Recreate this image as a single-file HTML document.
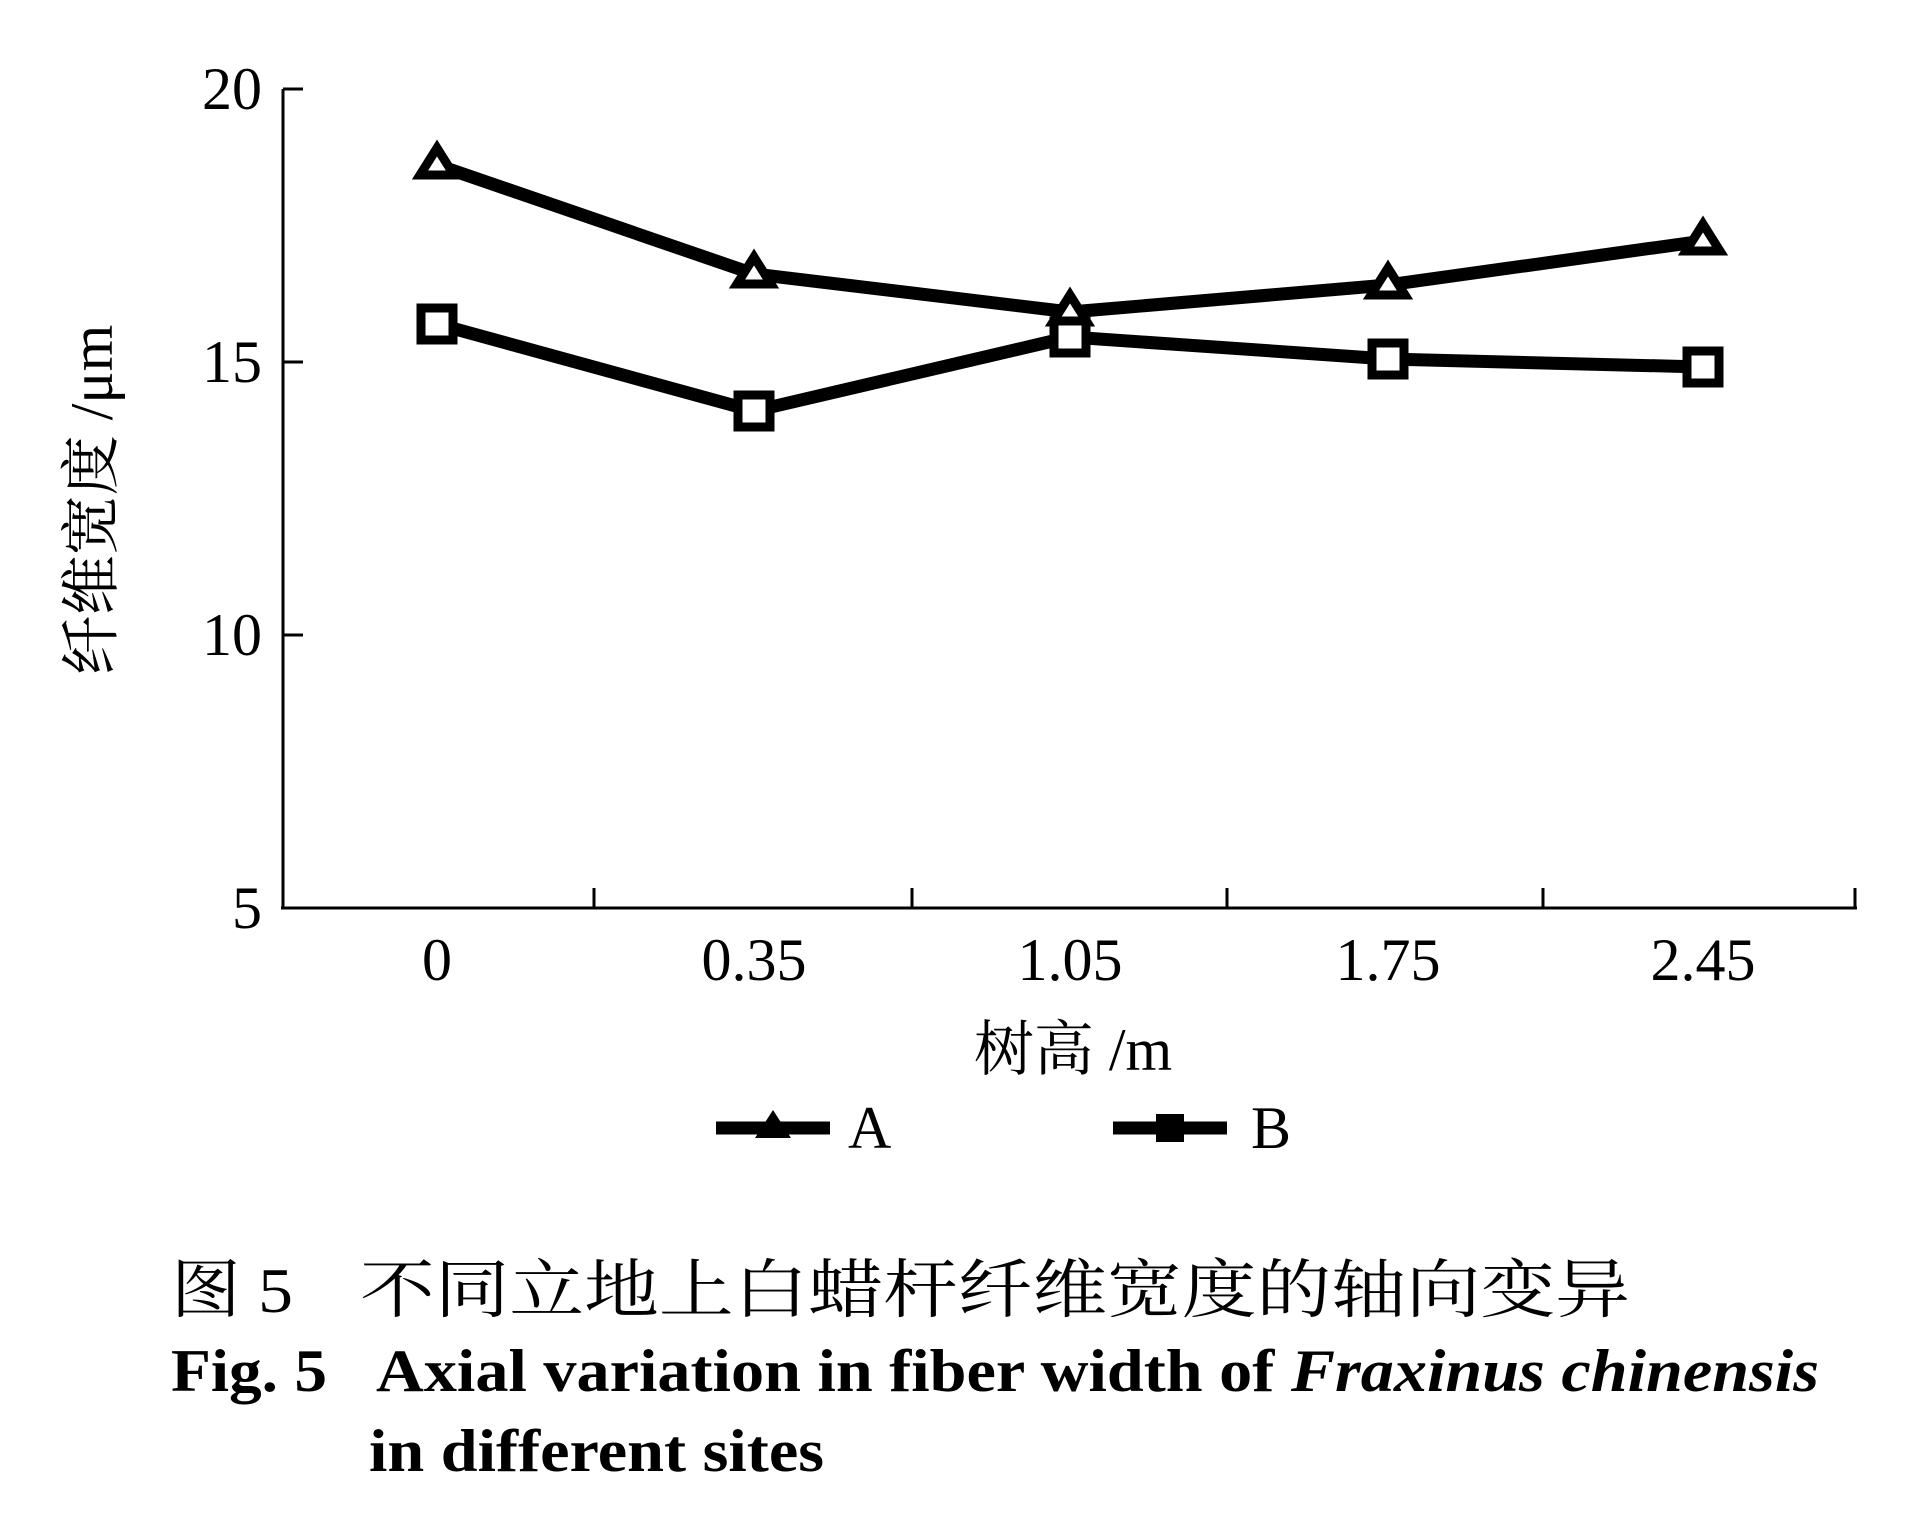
<!DOCTYPE html>
<html><head><meta charset="utf-8"><style>html,body{margin:0;padding:0;background:#fff}svg{display:block}</style></head>
<body>
<svg width="1913" height="1529" viewBox="0 0 1913 1529" xmlns="http://www.w3.org/2000/svg">
<g stroke="#000" stroke-width="3" fill="none">
<line x1="283" y1="89" x2="283" y2="909"/>
<line x1="281" y1="908" x2="1857" y2="908"/>
<line x1="283" y1="89" x2="303" y2="89"/>
<line x1="283" y1="362" x2="303" y2="362"/>
<line x1="283" y1="635" x2="303" y2="635"/>
<line x1="594" y1="908" x2="594" y2="888"/>
<line x1="912" y1="908" x2="912" y2="888"/>
<line x1="1227" y1="908" x2="1227" y2="888"/>
<line x1="1543" y1="908" x2="1543" y2="888"/>
<line x1="1855" y1="908" x2="1855" y2="888"/>
</g>
<g font-family="Liberation Serif, serif" font-size="60" fill="#000">
<text x="262" y="109" text-anchor="end">20</text>
<text x="262" y="382" text-anchor="end">15</text>
<text x="262" y="655" text-anchor="end">10</text>
<text x="262" y="928" text-anchor="end">5</text>
<text x="437" y="980" text-anchor="middle">0</text>
<text x="754" y="980" text-anchor="middle">0.35</text>
<text x="1070" y="980" text-anchor="middle">1.05</text>
<text x="1388" y="980" text-anchor="middle">1.75</text>
<text x="1703" y="980" text-anchor="middle">2.45</text>
<text x="1073" y="1070" text-anchor="middle" font-family="Liberation Serif, Noto Serif CJK SC, serif">树高 /m</text>
<text x="848" y="1148">A</text>
<text x="1251" y="1148">B</text>
<text transform="translate(112,500) rotate(-90)" text-anchor="middle" font-family="Liberation Serif, Noto Serif CJK SC, serif">纤维宽度 /μm</text>
</g>
<g stroke="#000" stroke-width="13" fill="none" stroke-linejoin="round">
<polyline points="437,165 754,274 1070,312 1388,285 1703,241"/>
<polyline points="437,324 754,411 1070,337 1388,359 1703,367"/>
<line x1="716" y1="1128" x2="830" y2="1128"/>
<line x1="1113" y1="1128" x2="1227" y2="1128"/>
</g>
<g stroke="#000" stroke-width="9" fill="#fff">
<polygon points="437,148 454,175 420,175"/><polygon points="754,257 771,284 737,284"/><polygon points="1070,295 1087,322 1053,322"/><polygon points="1388,268 1405,295 1371,295"/><polygon points="1703,224 1720,251 1686,251"/>
<rect x="421" y="308" width="32" height="32"/><rect x="738" y="395" width="32" height="32"/><rect x="1054" y="321" width="32" height="32"/><rect x="1372" y="343" width="32" height="32"/><rect x="1687" y="351" width="32" height="32"/>
</g>
<polygon points="773,1110 791,1138 755,1138" fill="#000"/>
<rect x="1156" y="1114" width="28" height="28" fill="#000"/>
<g font-family="Liberation Serif, Noto Serif CJK SC, serif" font-size="64">
<text x="171" y="1312" textLength="122" lengthAdjust="spacingAndGlyphs">图 5</text>
<text x="360" y="1312" textLength="1270" lengthAdjust="spacingAndGlyphs">不同立地上白蜡杆纤维宽度的轴向变异</text>
</g>
<g font-family="Liberation Serif, serif" font-weight="bold" font-size="60">
<text x="171" y="1391" textLength="156" lengthAdjust="spacingAndGlyphs">Fig. 5</text>
<text x="376" y="1391" textLength="1443" lengthAdjust="spacingAndGlyphs">Axial variation in fiber width of <tspan font-style="italic">Fraxinus chinensis</tspan></text>
<text x="369" y="1471" textLength="455" lengthAdjust="spacingAndGlyphs">in different sites</text>
</g>
</svg>
</body></html>
